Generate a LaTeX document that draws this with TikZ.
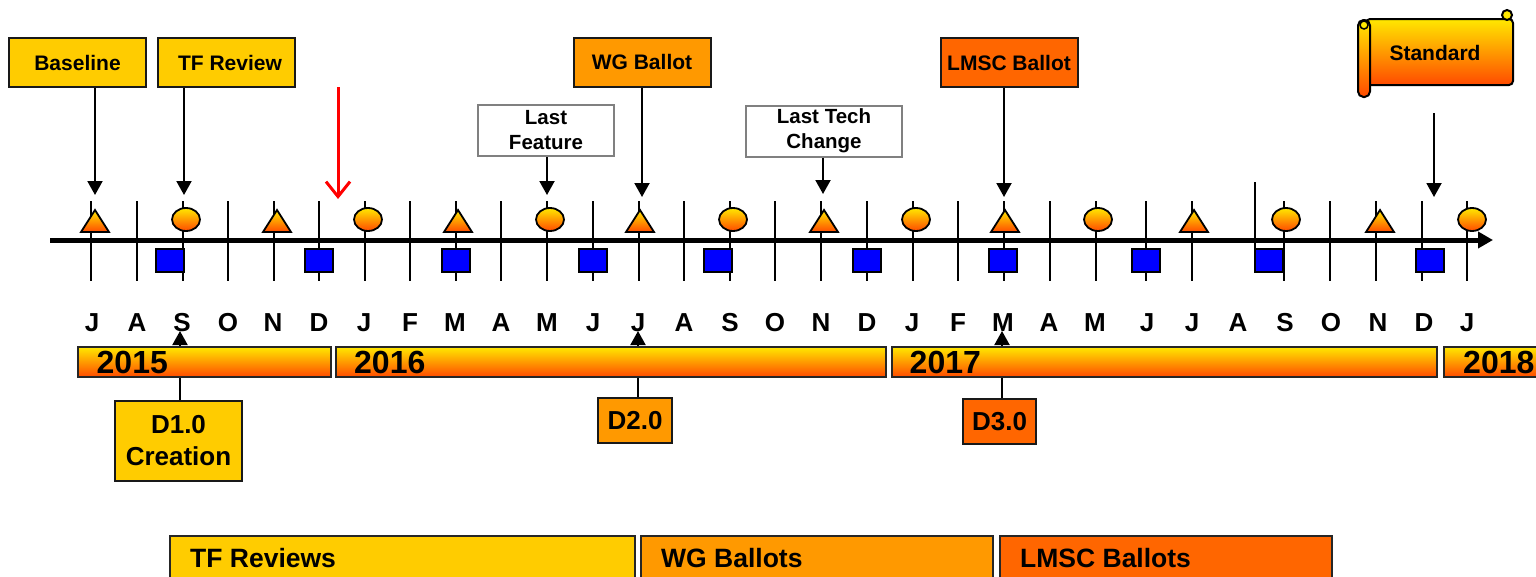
\documentclass[tikz,border=0pt]{standalone}
\usepackage{fontspec}
\setmainfont{Liberation Sans}
\usepackage{tikz}
\usetikzlibrary{arrows.meta, positioning, calc}
\definecolor{tlgold}    {RGB}{255, 204,   0}
\definecolor{tlorange}  {RGB}{255, 153,   0}
\definecolor{tlred}     {RGB}{255, 102,   0}
\definecolor{tlblue}    {RGB}{0,     0, 255}
\definecolor{shadetop}  {RGB}{255, 232,   0}
\definecolor{shademid}  {RGB}{255, 180,   0}
\definecolor{shadebot}  {RGB}{255,  74,   0}
\tikzset{
	grad/.style={top color=shadetop, middle color=shademid, bottom color=shadebot},
	tick/.style={line width=2pt},
	shapemark/.style={draw=black, line width=1.8pt, grad},
	sq/.style={draw=black, line width=1.8pt, fill=tlblue},
	pointer/.style={line width=2pt, -{Triangle[width=15pt,length=14pt]}},
	labelbox/.style={draw=black!90, line width=2pt, minimum width=137pt, minimum height=49pt,
		inner sep=0pt, font=\fontsize{21}{24}\selectfont\bfseries},
	notebox/.style={draw=gray, fill=white, line width=2pt, minimum height=51pt, inner sep=0pt,
		align=center, font=\fontsize{20.5}{25}\selectfont\bfseries},
	draftbox/.style={draw=black!90, line width=2pt, inner sep=0pt, align=center,
		font=\fontsize{26}{32}\selectfont\bfseries},
	month/.style={inner sep=0pt, font=\fontsize{26}{30}\selectfont\bfseries},
	yearbar/.style={draw=black!85, line width=2pt, grad, minimum height=30pt, inner sep=0pt},
	yeartxt/.style={inner sep=0pt, anchor=west, font=\fontsize{32}{36}\selectfont\bfseries},
	legendbox/.style={draw=black!85, line width=2pt, minimum height=45pt, inner sep=0pt},
	legendtxt/.style={inner sep=0pt, anchor=west, font=\fontsize{26.5}{30}\selectfont\bfseries}
}
\begin{document}
\begin{tikzpicture}[x=1pt, y=-1pt]
	\useasboundingbox (0,0) rectangle (1536,576);
	% month ticks and axis
	\foreach \x in {91,137,183,228,274,319,365,410,456,501,547,593,639,684,730,775,821,867,913,958,1004,1050,1096,1146,1192,1284,1330,1376,1422,1467}
		\draw[tick] (\x,201) -- (\x,281);
	\draw[tick] (1255,182) -- (1255,270);
	\draw[line width=5pt, -{Triangle[width=16pt,length=15pt]}] (50,240) -- (1493,240);
	\foreach \x in {95,277,458,640,824,1005,1194,1380}
		\draw[shapemark] (\x-14,232) -- (\x,210) -- (\x+14,232) -- cycle;
	\foreach \x in {186,368,550,733,916,1098,1286,1472}
		\draw[shapemark] (\x,219.5) ellipse [x radius=14pt, y radius=11.5pt];
	\foreach \x in {170,319,456,593,718,867,1003,1146,1269,1430}
		\draw[sq] (\x-14,249) rectangle (\x+14,272);
	% milestones above the axis
	\node[labelbox, fill=tlgold] (base) at (77.5,62.5) {Baseline};
	\node[labelbox, fill=tlgold] (tfrev) at (226.5,62.5) {\,\,TF Review};
	\node[labelbox, fill=tlorange] (wgbal) at (642,62) {WG Ballot};
	\node[labelbox, fill=tlred] (lmscbal) at (1009,62.5) {LMSC Ballot};
	\node[notebox, minimum width=136pt] (lastfeat) at (546,130.5) {\raisebox{-2pt}{Last}\\\raisebox{-2pt}{Feature}};
	\node[notebox, minimum width=156pt] (lasttech) at (824,131) {\raisebox{-2pt}{Last Tech}\\\raisebox{-2pt}{Change}};
	\coordinate (baseTip) at (95,195);
	\coordinate (tfrevTip) at (184,195);
	\coordinate (featTip) at (547,195);
	\coordinate (wgTip) at (642,197);
	\coordinate (techTip) at (823,194);
	\coordinate (lmscTip) at (1004,197);
	\draw[pointer] (base.south -| baseTip) -- (baseTip);
	\draw[pointer] (tfrev.south -| tfrevTip) -- (tfrevTip);
	\draw[pointer] (lastfeat.south -| featTip) -- (featTip);
	\draw[pointer] (wgbal.south -| wgTip) -- (wgTip);
	\draw[pointer] (lasttech.south -| techTip) -- (techTip);
	\draw[pointer] (lmscbal.south -| lmscTip) -- (lmscTip);
	\coordinate (nowTail) at (338,87);
	\coordinate (nowTip) at (338,199);
	\draw[red, line width=3pt, -{Straight Barb[width=24pt,length=15pt]}] (nowTail) -- (nowTip);
	% standard scroll
	\draw[line width=2pt, grad, rounded corners=4pt] (1366,19) rectangle (1513,85);
	\draw[line width=2pt, fill=shadetop] (1507,15) circle [radius=5pt];
	\draw[line width=2pt, grad, rounded corners=5.5pt] (1358,20) rectangle (1370,97);
	\draw[line width=1.5pt, fill=shadetop] (1364,25) circle [radius=4pt];
	\node[inner sep=0pt, font=\fontsize{21}{24}\selectfont\bfseries] (std) at (1435,53) {Standard};
	\coordinate (stdTail) at (1434,113);
	\coordinate (stdTip) at (1434,197);
	\draw[pointer] (stdTail) -- (stdTip);
	% months
	\foreach \x/\m [count=\i] in {92/J,137/A,182/S,228/O,273/N,319/D,364/J,410/F,455/M,501/A,547/M,593/J,638/J,684/A,730/S,775/O,821/N,867/D,912/J,958/F,1003/M,1049/A,1095/M,1147/J,1192/J,1238/A,1285/S,1331/O,1378/N,1424/D,1467/J}
		\node[month] (m\i) at (\x,322.5) {\m};
	% drafts below the axis
	\node[draftbox, fill=tlgold, minimum width=127pt, minimum height=80pt] (done) at (178.5,441) {D1.0\\Creation};
	\node[draftbox, fill=tlorange, minimum width=74pt, minimum height=45pt] (dtwo) at (635,420.5) {D2.0};
	\node[draftbox, fill=tlred, minimum width=73pt, minimum height=45pt] (dthree) at (999.5,421.5) {D3.0};
	\coordinate (doneTip) at (180,331);
	\coordinate (dtwoTip) at (638,331);
	\coordinate (dthreeTip) at (1002,331);
	\draw[pointer] (done.north -| doneTip) -- (doneTip);
	\draw[pointer] (dtwo.north -| dtwoTip) -- (dtwoTip);
	\draw[pointer] (dthree.north -| dthreeTip) -- (dthreeTip);
	% years
	\node[yearbar, minimum width=253pt] (y2015) at (204,362) {};
	\node[yearbar, minimum width=550pt] (y2016) at (611,362) {};
	\node[yearbar, minimum width=545pt] (y2017) at (1164,362) {};
	\node[yearbar, minimum width=100pt] (y2018) at (1494,362) {};
	\node[yeartxt, right=20pt of y2015.west] (t2015) {2015};
	\node[yeartxt, right=19pt of y2016.west] (t2016) {2016};
	\node[yeartxt, right=19pt of y2017.west] (t2017) {2017};
	\node[yeartxt, right=20pt of y2018.west] (t2018) {2018};
	% legend
	\node[legendbox, fill=tlgold, minimum width=465pt] (lgtf) at (402.5,558.5) {};
	\node[legendbox, fill=tlorange, minimum width=352pt] (lgwg) at (817,558.5) {};
	\node[legendbox, fill=tlred, minimum width=332pt] (lglmsc) at (1166,558.5) {};
	\node[legendtxt, right=21pt of lgtf.west] (ttf) {TF Reviews};
	\node[legendtxt, right=21pt of lgwg.west] (twg) {WG Ballots};
	\node[legendtxt, right=21pt of lglmsc.west] (tlmsc) {LMSC Ballots};
\end{tikzpicture}
\end{document}
